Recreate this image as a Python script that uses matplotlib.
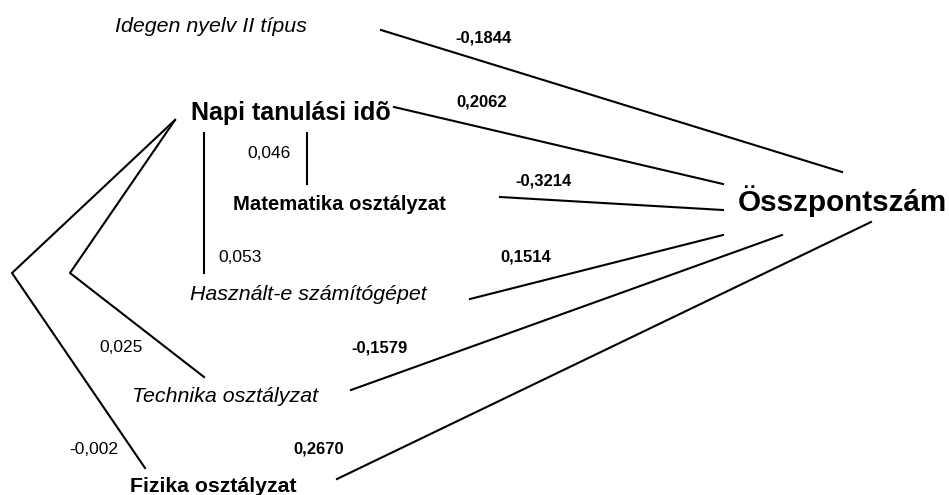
import matplotlib.pyplot as plt

plt.rcParams['font.family'] = ['Liberation Sans', 'DejaVu Sans']

# data: variables, path coefficients to the total score, correlations
predictors = ["Idegen nyelv II típus", "Napi tanulási idõ", "Matematika osztályzat",
              "Használt-e számítógépet", "Technika osztályzat", "Fizika osztályzat"]
path_coefs = [-0.1844, 0.2062, -0.3214, 0.1514, -0.1579, 0.2670]
target = "Összpontszám"
corr_pairs = [("Napi tanulási idõ", "Matematika osztályzat"),
              ("Napi tanulási idõ", "Használt-e számítógépet"),
              ("Napi tanulási idõ", "Technika osztályzat"),
              ("Napi tanulási idõ", "Fizika osztályzat")]
corr_values = [0.046, 0.053, 0.025, -0.002]

# layout (pixel coordinates, y downwards)
node_pos = {
    "Idegen nyelv II típus": (211, 26, 'italic', 'normal', 15.4),
    "Napi tanulási idõ": (291, 113, 'normal', 'bold', 18),
    "Matematika osztályzat": (339, 204, 'normal', 'bold', 14.6),
    "Használt-e számítógépet": (308, 295, 'italic', 'normal', 15.4),
    "Technika osztályzat": (225, 397, 'italic', 'normal', 15.4),
    "Fizika osztályzat": (213, 487, 'normal', 'bold', 15.3),
    "Összpontszám": (842, 201, 'normal', 'bold', 21.3),
}
path_lines = [((381, 30), (842, 172)),
              ((394, 107), (723, 184)),
              ((500, 197), (723, 210)),
              ((470, 299), (723, 235)),
              ((351, 390), (782, 235)),
              ((337, 479), (871, 222))]
path_label_pos = [(484, 38), (482, 102), (544, 181), (526, 257), (380, 348), (319, 449)]
corr_lines = [[(307, 133), (307, 184)],
              [(204, 133), (204, 273)],
              [(175, 120), (70, 273), (204, 377)],
              [(175, 120), (12, 273), (145, 468)]]
corr_label_pos = [(269, 154), (240, 257), (121, 348), (94, 449)]

fig = plt.figure(figsize=(9.49, 4.95), dpi=100)
ax = fig.add_axes([0, 0, 1, 1])
ax.set_xlim(0, 949)
ax.set_ylim(495, 0)
ax.axis('off')

for name in predictors + [target]:
    x, y, style, weight, size = node_pos[name]
    ax.text(x, y, name, ha='center', va='center', fontstyle=style,
            fontweight=weight, fontsize=size, color='black')

for (p0, p1), coef, (lx, ly) in zip(path_lines, path_coefs, path_label_pos):
    ax.plot([p0[0], p1[0]], [p0[1], p1[1]], color='black', lw=1.5)
    ax.text(lx, ly, f"{coef:.4f}".replace('.', ','), ha='center', va='center',
            fontweight='bold', fontsize=12)

for pts, r, (lx, ly) in zip(corr_lines, corr_values, corr_label_pos):
    xs = [p[0] for p in pts]
    ys = [p[1] for p in pts]
    ax.plot(xs, ys, color='black', lw=1.5)
    ax.text(lx, ly, f"{r:.3f}".replace('.', ','), ha='center', va='center', fontsize=12.5)

fig.savefig('out.png', dpi=100)
